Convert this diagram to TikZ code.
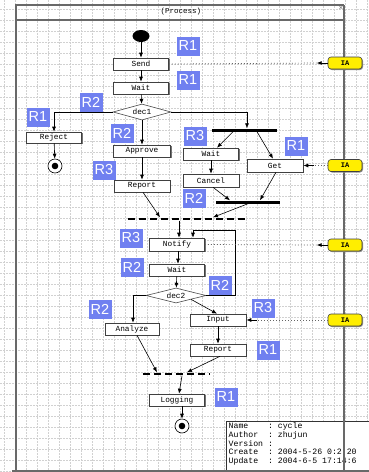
\documentclass[tikz,border=0pt]{standalone}
\usepackage{fontspec}
\setmonofont{Liberation Mono}
\newfontfamily\tagfont{Liberation Sans}
\usetikzlibrary{shapes.geometric,arrows.meta,shadows}
\definecolor{tagblue}{RGB}{112,128,240}
\definecolor{iayellow}{RGB}{255,238,0}
\definecolor{framegray}{RGB}{105,105,105}
\begin{document}
\begin{tikzpicture}[x=1pt,y=-1pt,
  boxfont/.style={font=\ttfamily\fontsize{7.8}{8}\selectfont},
  act/.style={boxfont, draw=black!75, fill=white, line width=0.6pt,
    minimum width=55pt, minimum height=12pt, inner sep=0pt,
    drop shadow={shadow xshift=1.4pt, shadow yshift=-1.4pt, opacity=1, fill=black!55}},
  decision/.style={boxfont, diamond, aspect=3.6, draw=black!70, fill=white,
    line width=0.6pt, inner sep=0pt, minimum width=58pt, minimum height=16pt},
  iabox/.style={font=\ttfamily\bfseries\fontsize{7}{8}\selectfont, draw=black!75,
    fill=iayellow, rounded corners=3pt, line width=0.6pt, minimum width=34pt,
    minimum height=12pt, inner sep=0pt,
    drop shadow={shadow xshift=1pt, shadow yshift=-1pt, opacity=1, fill=black!45}},
  tag/.style={fill=tagblue, text=white, minimum width=23pt, minimum height=19pt,
    inner sep=0pt, font=\tagfont\fontsize{14.5}{15}\selectfont},
  solidbar/.style={fill=black, inner sep=0pt, minimum height=3pt},
  dashbar/.style={inner sep=0pt, minimum height=3pt},
  dashstroke/.style={line width=2.6pt, dash pattern=on 7.5pt off 3.5pt},
  startdot/.style={ellipse, fill=black, minimum width=17pt, minimum height=12pt, inner sep=0pt},
  enddot/.style={circle, draw=black, line width=0.6pt, fill=white, minimum size=14pt, inner sep=0pt,
    path picture={\fill[black] (path picture bounding box.center) circle (3.3pt);}},
  flow/.style={-{Latex[length=5pt,width=4pt]}, black, line width=0.6pt},
  dotlink/.style={black!60, line width=0.7pt, dash pattern=on 1pt off 2pt},
  stub/.style={-{Latex[length=5pt,width=4pt]}, black, line width=0.8pt},
  gridline/.style={black!18, line width=0.4pt, dash pattern=on 1.5pt off 1.5pt},
  frameline/.style={framegray, line width=1.4pt},
]
\useasboundingbox (0,0) rectangle (369,472);
\fill[white] (0,0) rectangle (369,472);

% background grid
\foreach \gx in {4,15,...,369} \draw[gridline] (\gx,0) -- (\gx,472);
\foreach \gy in {9,20,...,472} \draw[gridline] (0,\gy) -- (369,\gy);

% model information panel
\node[draw=black!80, fill=white, line width=0.7pt, minimum width=150pt, minimum height=56pt,
  inner sep=0pt, anchor=north west] (infopanel) at (226,421) {};
\node[font=\ttfamily\fontsize{8.2}{8.75}\selectfont, align=left, anchor=north west,
  inner sep=0pt] (infotext) at (228.5,422.5)
  {Name\ \ \ \ :\ cycle\\
   Author\ \ :\ zhujun\\
   Version\ :\\
   Create\ \ :\ 2004-5-26 0:2:20\\
   Update\ \ :\ 2004-6-5 17:14:6};

% process frame
\draw[frameline] (16,472) -- (16,5) -- (344,5);
\draw[frameline] (16,20) -- (344,20);
\draw[frameline] (344,5) -- (344,472);
\draw[frameline] (12,471) -- (369,471);
\node[font=\ttfamily\fontsize{7.5}{8}\selectfont] (title) at (181,12) {(Process)};
\node[font=\fontsize{6}{6}\selectfont, inner sep=0pt] (closemark) at (341,7.5) {$\times$};

% activities
\node[startdot] (start) at (141,36) {};
\node[act] (send) at (141,64) {Send};
\node[act] (wait1) at (141,88) {Wait};
\node[decision] (dec1) at (142,112) {dec1};
\node[act, minimum height=11pt] (reject) at (54,137.5) {Reject};
\node[enddot] (fin1) at (55,166) {};
\node[act, minimum width=57pt] (approve) at (142,151) {Approve};
\node[act, minimum width=56pt] (report1) at (142,186) {Report};
\node[solidbar, minimum width=65pt] (bar1) at (244.5,130) {};
\node[act] (wait2) at (211,154) {Wait};
\node[act, minimum width=56pt, minimum height=13pt] (get) at (275,165.5) {Get};
\node[act, minimum width=56pt, minimum height=13pt] (cancel) at (211,180.5) {Cancel};
\node[solidbar, minimum width=64pt] (bar2) at (248,202) {};
\node[dashbar, minimum width=120pt] (bar3) at (188,219) {};
\node[act, minimum height=13pt] (notify) at (177,244.5) {Notify};
\node[act] (wait3) at (177,270) {Wait};
\node[decision, minimum width=60pt, minimum height=15pt] (dec2) at (176,295.5) {dec2};
\node[act, minimum width=54pt] (analyze) at (132,329) {Analyze};
\node[act, minimum width=56pt] (input) at (218,320) {Input};
\node[act, minimum width=56pt] (report2) at (218,350) {Report};
\node[dashbar, minimum width=66pt] (bar4) at (176,374) {};
\node[act] (logging) at (177,400) {Logging};
\node[enddot] (fin2) at (182,426) {};

\draw[dashstroke] (bar3.west) -- (bar3.east);
\draw[dashstroke] (bar4.west) -- (bar4.east);

% interface stubs
\node[iabox] (ia1) at (345,63) {IA};
\node[iabox] (ia2) at (345,165.5) {IA};
\node[iabox] (ia3) at (345,245) {IA};
\node[iabox] (ia4) at (345,320) {IA};

% role tags
\node[tag] (t1) at (188,46) {R1};
\node[tag] (t2) at (188,80) {R1};
\node[tag] (t3) at (91,102) {R2};
\node[tag] (t4) at (38,117) {R1};
\node[tag] (t5) at (122,133) {R2};
\node[tag] (t6) at (195,136) {R3};
\node[tag] (t7) at (296,146) {R1};
\node[tag] (t8) at (104,170) {R3};
\node[tag] (t9) at (194,198) {R2};
\node[tag] (t10) at (131,238) {R3};
\node[tag] (t11) at (132,267) {R2};
\node[tag] (t12) at (220,285) {R2};
\node[tag] (t13) at (100,309) {R2};
\node[tag] (t14) at (263,308) {R3};
\node[tag] (t15) at (268,350) {R1};
\node[tag] (t16) at (226,397) {R1};

% control flow
\draw[flow] (start) -- (send);
\draw[flow] (send) -- (wait1);
\draw[flow] (wait1) -- (dec1);
\draw[flow] (dec1.west) -| (reject.north);
\draw[flow] (dec1) -- (approve);
\draw[flow] (dec1.east) -| ([xshift=2.5pt]bar1.north);
\draw[flow] (reject) -- (fin1);
\draw[flow] ([xshift=-11.5pt]bar1.south) -- ([xshift=6pt]wait2.north);
\draw[flow] ([xshift=12.5pt]bar1.south) -- ([xshift=-2pt]get.north);
\draw[flow] (wait2) -- (cancel);
\draw[flow] (approve) -- (report1);
\draw[flow] ([xshift=2pt]cancel.south) -- ([xshift=-18pt]bar2.north);
\draw[flow] ([xshift=1pt]get.south) -- ([xshift=12pt]bar2.north);
\draw[flow] ([xshift=1pt]report1.south) -- ([xshift=-28pt]bar3.north);
\draw[flow] (bar2.south) -- ([xshift=25pt]bar3.north);
\draw[flow] ([xshift=-9pt]bar3.south) -- ([xshift=2pt]notify.north);
\draw[flow] ([xshift=1pt]notify.south) -- ([xshift=1pt]wait3.north);
\draw[flow] (wait3) -- (dec2);
\coordinate (loopcorner) at (235,230);
\draw[flow] (dec2.east) -| (loopcorner) -| ([xshift=16pt]notify.north);
\draw[flow] (dec2.west) -| ([xshift=1pt]analyze.north);
\draw[flow] (dec2.south east) -- ([xshift=-1pt]input.north);
\draw[flow] (input) -- (report2);
\draw[flow] ([xshift=5pt]analyze.south) -- ([xshift=-19pt]bar4.north);
\draw[flow] ([xshift=2pt]report2.south) -- ([xshift=11pt]bar4.north);
\draw[flow] ([xshift=6pt]bar4.south) -- ([xshift=2pt]logging.north);
\draw[flow] ([xshift=5pt]logging.south) -- (fin2);

% interface links
\draw[dotlink] (send.east) -- ([xshift=-11pt]ia1.west);
\draw[stub] (ia1.west) -- ([xshift=-11pt]ia1.west);
\draw[dotlink] (notify.east) -- ([xshift=-11pt]ia3.west);
\draw[stub] (ia3.west) -- ([xshift=-11pt]ia3.west);
\draw[dotlink] (ia2.west) -- ([xshift=11pt]get.east);
\draw[stub] ([xshift=11pt]get.east) -- (get.east);
\draw[dotlink] (ia4.west) -- ([xshift=11pt]input.east);
\draw[stub] ([xshift=11pt]input.east) -- (input.east);
\end{tikzpicture}
\end{document}
